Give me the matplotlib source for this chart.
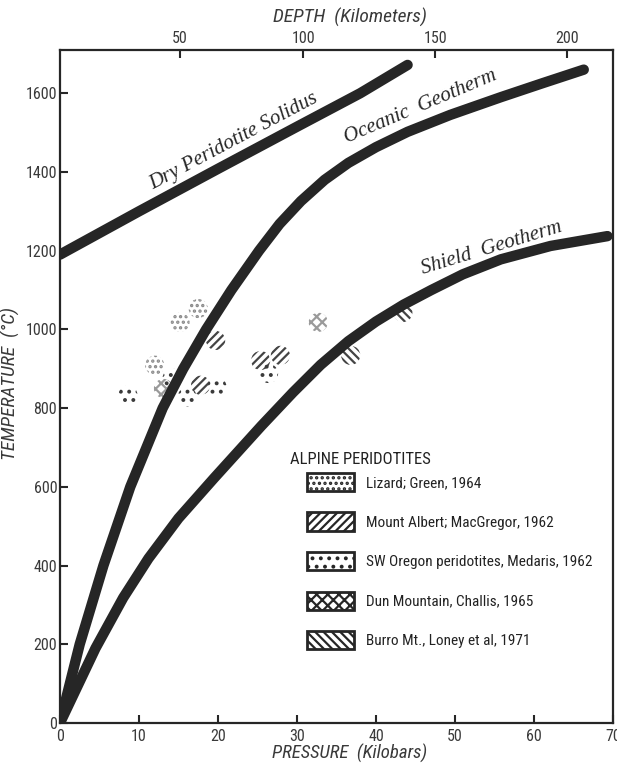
import matplotlib
matplotlib.use("Agg")
import matplotlib.pyplot as plt
from matplotlib.patches import Patch

# ---------------- data ----------------
solidus_p = [0, 10, 20, 30, 38, 44]
solidus_t = [1190, 1300, 1408, 1515, 1600, 1672]

oceanic_p = [0, 2.5, 5.5, 8.9, 13.0, 15.6, 18.5, 21.7, 25.2, 27.8, 30.5, 33.5, 36.5,
             40.0, 44.0, 49.4, 55.8, 61.0, 66.3]
oceanic_t = [0, 200, 400, 600, 800, 900, 1000, 1100, 1200, 1268, 1326, 1380, 1423,
             1463, 1502, 1545, 1590, 1625, 1660]

shield_p = [0, 4.5, 8.0, 11.2, 15.0, 19.5, 25.5, 29.5, 33.0, 36.5, 40.0, 43.5, 47.0,
            51.0, 55.8, 62.1, 69.3]
shield_t = [0, 190, 318, 418, 520, 622, 755, 840, 910, 970, 1020, 1063, 1100,
            1140, 1178, 1212, 1237]

lizard_p = [17.5, 15.2, 12.0]
lizard_t = [1053, 1018, 909]
albert_p = [19.7, 17.8, 25.4, 27.9]
albert_t = [972, 858, 921, 934]
oregon_p = [8.6, 16.1, 19.9, 14.2, 26.4]
oregon_t = [833, 828, 853, 876, 888]
dun_p = [13.1, 32.7]
dun_t = [850, 1018]
burro_p = [36.8, 43.4]
burro_t = [934, 1043]

legend_labels = ["Lizard; Green, 1964",
                 "Mount Albert; MacGregor, 1962",
                 "SW Oregon peridotites, Medaris, 1962",
                 "Dun Mountain, Challis, 1965",
                 "Burro Mt., Loney et al, 1971"]

x_ticks = [0, 10, 20, 30, 40, 50, 60, 70]
y_ticks = [0, 200, 400, 600, 800, 1000, 1200, 1400, 1600]
depth_ticks = [50, 100, 150, 200]
depth_tick_pressure = [15.2, 30.8, 47.5, 64.2]

# ---------------- style ----------------
NARROW = ["Liberation Sans Narrow", "Roboto Condensed", "Open Sans Condensed", "DejaVu Sans"]
SCRIPT = ["Liberation Serif", "DejaVu Serif"]
INK = "#262626"
GREY = "#3a3a3a"
plt.rcParams["font.family"] = NARROW
plt.rcParams["font.stretch"] = "condensed"
plt.rcParams["hatch.linewidth"] = 1.6

fig = plt.figure(figsize=(6.17, 7.64), dpi=100)
ax = fig.add_axes([0.0972, 0.0537, 0.8963, 0.8809])
ax.set_xlim(0, 70)
ax.set_ylim(0, 1710)

# blobs (data patches)
blob_kw = dict(s=190, marker="o", facecolors="none", linewidths=0, zorder=2)
ax.scatter(lizard_p, lizard_t, hatch="...", edgecolors="#8a8a8a", **blob_kw)
ax.scatter(albert_p, albert_t, hatch="////", edgecolors="#444444", **blob_kw)
ax.scatter(oregon_p, oregon_t, hatch="..", edgecolors="#3a3a3a", **blob_kw)
ax.scatter(dun_p, dun_t, hatch="xxx", edgecolors="#9a9a9a", **blob_kw)
ax.scatter(burro_p, burro_t, hatch="\\\\\\\\", edgecolors="#444444", **blob_kw)

# curves
line_kw = dict(color=INK, lw=7.5, solid_capstyle="round", solid_joinstyle="round", zorder=3)
ax.plot(solidus_p, solidus_t, **line_kw)
ax.plot(oceanic_p, oceanic_t, **line_kw)
ax.plot(shield_p, shield_t, **line_kw)

# curve labels
ax.text(22.0, 1478, "Dry Peridotite Solidus", rotation=28, fontsize=15, style="italic",
        family=SCRIPT, color=INK, ha="center", va="center", rotation_mode="anchor")
ax.text(45.6, 1565, "Oceanic  Geotherm", rotation=23, fontsize=15, style="italic",
        family=SCRIPT, color=INK, ha="center", va="center", rotation_mode="anchor")
ax.text(54.7, 1206, "Shield  Geotherm", rotation=17, fontsize=15, style="italic",
        family=SCRIPT, color=INK, ha="center", va="center", rotation_mode="anchor")

# axes styling
for sp in ax.spines.values():
    sp.set_linewidth(1.6)
    sp.set_color(INK)
ax.set_xticks(x_ticks)
ax.set_xticklabels([str(v) for v in x_ticks])
ax.set_yticks(y_ticks)
ax.set_yticklabels([str(v) for v in y_ticks])
ax.tick_params(axis="both", direction="in", length=6, width=1.5, colors=INK,
               labelsize=11.5, labelcolor=GREY)
ax.tick_params(axis="y", pad=2)
ax.tick_params(axis="x", pad=4)

ax.set_xlabel("PRESSURE  (Kilobars)", fontsize=13.5, style="italic", color=GREY)
ax.xaxis.set_label_coords(0.524, -0.031)
ax.set_ylabel("TEMPERATURE  (°C)", fontsize=14, style="italic", color=GREY)
ax.yaxis.set_label_coords(-0.072, 0.504)

ax2 = ax.twiny()
ax2.set_xlim(ax.get_xlim())
ax2.set_xticks(depth_tick_pressure)
ax2.set_xticklabels([str(v) for v in depth_ticks])
ax2.tick_params(axis="x", direction="in", length=6, width=1.5, colors=INK,
                labelsize=11.5, labelcolor=GREY, pad=3)
for sp in ax2.spines.values():
    sp.set_visible(False)
ax2.set_xlabel("DEPTH  (Kilometers)", fontsize=14, style="italic", color=GREY)
ax2.xaxis.set_label_coords(0.524, 1.04)

# legend
ax.text(0.416, 0.391, "ALPINE PERIDOTITES", transform=ax.transAxes, fontsize=12,
        color="#222222", ha="left", va="center")
hatches = ["...", "////", "..", "xxx", "\\\\\\\\"]
handles = [Patch(facecolor="white", edgecolor=INK, linewidth=2.0, hatch=h) for h in hatches]
leg = ax.legend(handles, legend_labels, loc="upper left", bbox_to_anchor=(0.4467, 0.3715),
                frameon=False, fontsize=11, handlelength=3.1, handleheight=1.45,
                handletextpad=0.75, labelspacing=1.4, borderpad=0, borderaxespad=0)
for t in leg.get_texts():
    t.set_color("#222222")

fig.savefig("out.png", dpi=100)
